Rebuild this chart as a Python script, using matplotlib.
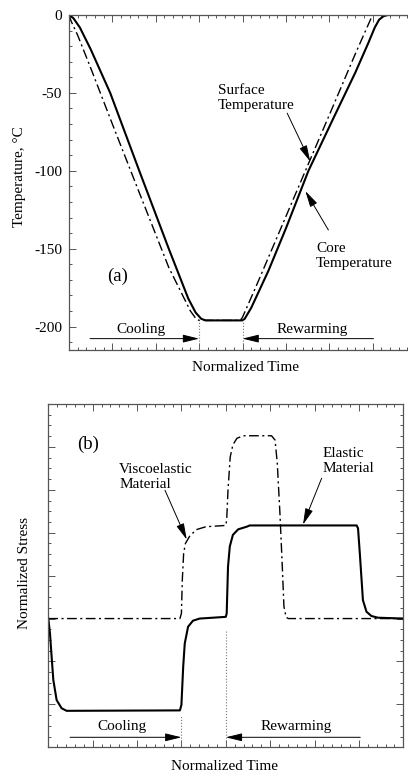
import matplotlib
matplotlib.use('Agg')
import matplotlib.pyplot as plt
from matplotlib.ticker import MultipleLocator, NullFormatter

plt.rcParams['font.family'] = ['Liberation Serif', 'DejaVu Serif']
plt.rcParams['font.size'] = 11
plt.rcParams['axes.unicode_minus'] = False

# (a) temperature histories, x in normalized time units
core_x = [0, 0.1, 0.25, 0.5, 0.95, 1.62, 2.3, 2.75, 2.92, 3.05, 3.15, 3.25,
          4.0, 4.05, 4.2, 4.6, 5.0, 5.52, 6.1, 6.6, 6.9, 7.05, 7.15, 7.25, 7.35, 8.0]
core_y = [0, -2, -8, -22, -50, -100, -150, -182, -191, -195, -196, -196,
          -196, -195, -188, -164, -137, -100, -66, -37, -18, -8, -3, -0.8, 0, 0]
surf_x = [0, 0.05, 0.2, 0.5, 1.0, 1.62, 2.3, 2.8, 2.93, 3.0, 3.05,
          3.95, 4.0, 4.3, 5.45, 6.05, 6.6, 6.95, 7.0, 7.05, 8.0]
surf_y = [0, -4, -13, -34, -70, -114, -162, -190, -195, -196, -196,
          -196, -194, -175, -100, -61, -25, -3, 0, 0, 0]

# (b) stress histories, y in normalized units (0..8)
elastic_x = [0, 0.0375, 0.075, 0.113, 0.188, 0.30, 0.413, 2.966, 3.0, 3.04, 3.075,
             3.15, 3.26, 3.41, 3.71, 4.0, 4.02, 4.05, 4.09, 4.16, 4.28, 4.47, 4.54,
             6.95, 6.98, 7.02, 7.06, 7.09, 7.17, 7.28, 7.43, 8.0]
elastic_y = [3.0, 2.66, 2.11, 1.57, 1.10, 0.91, 0.85, 0.86, 0.99, 1.88, 2.42,
             2.81, 2.95, 3.0, 3.02, 3.04, 3.12, 4.21, 4.68, 4.95, 5.08, 5.14, 5.17,
             5.17, 5.1, 4.52, 3.9, 3.43, 3.16, 3.06, 3.02, 3.0]
visco_x = [0, 2.966, 3.0, 3.02, 3.05, 3.09, 3.18, 3.33, 3.55, 4.0, 4.02, 4.05,
           4.1, 4.16, 4.25, 4.39, 5.03, 5.11, 5.16, 5.22, 5.27, 5.31, 5.36, 5.41, 8.0]
visco_y = [3.0, 3.0, 3.12, 3.9, 4.52, 4.75, 4.91, 5.07, 5.14, 5.17, 5.3, 6.0,
           6.77, 7.05, 7.2, 7.26, 7.26, 7.16, 6.62, 5.45, 4.29, 3.28, 3.03, 3.0, 3.0]

phase_labels = ['Cooling', 'Rewarming']
t_end_cool = 3.0
t_start_warm = 4.0

W, H = 408, 777
fig = plt.figure(figsize=(W / 100, H / 100), dpi=100)

spine_c = '#555555'
arrow_kw = dict(arrowstyle='-|>,head_length=0.9,head_width=0.22', color='black',
                lw=0.7, shrinkA=0, shrinkB=0)
dashdot = (7, 2.5, 1.5, 2.5)


def style_axes(ax):
    for s in ax.spines.values():
        s.set_color(spine_c)
        s.set_linewidth(0.9)
    ax.tick_params(which='both', direction='in', top=True, right=True,
                   color=spine_c, width=0.7)
    ax.tick_params(which='major', length=5)
    ax.tick_params(which='minor', length=2.5)
    ax.xaxis.set_major_locator(MultipleLocator(1))
    ax.xaxis.set_minor_locator(MultipleLocator(0.2))
    ax.xaxis.set_major_formatter(NullFormatter())


# ---- panel (a)
ax1 = fig.add_axes([69 / W, (H - 350) / H, (416 - 69) / W, 335 / H])
style_axes(ax1)
ax1.plot(core_x, core_y, color='black', lw=1.5)
ax1.plot(surf_x, surf_y, color='black', lw=1.0, dashes=dashdot)
ax1.set_xlim(0, 8)
ax1.set_ylim(-215, 0)
ax1.yaxis.set_major_locator(MultipleLocator(50))
ax1.yaxis.set_minor_locator(MultipleLocator(10))
ax1.tick_params(axis='y', which='major', pad=5)
ax1.set_ylabel('Temperature, °C', va='center')
ax1.yaxis.set_label_coords((20 - 69) / 347, (350 - 177) / 335)
ax1.set_xlabel('Normalized Time', va='center')
ax1.xaxis.set_label_coords((245 - 69) / 347, (350 - 368) / 335)

ax1.plot([t_end_cool, t_end_cool], [-215, -196], color='#777777', lw=0.8, ls=':')
ax1.plot([t_start_warm, t_start_warm], [-215, -196], color='#777777', lw=0.8, ls=':')
ax1.annotate('', xy=(t_end_cool, -207.7), xytext=(0.485, -207.7), arrowprops=arrow_kw)
ax1.annotate('', xy=(t_start_warm, -207.7), xytext=(7.02, -207.7), arrowprops=arrow_kw)
ax1.text(1.65, -202, phase_labels[0], ha='center', va='center')
ax1.text(5.6, -202, phase_labels[1], ha='center', va='center')
ax1.text(1.11, -168, '(a)', ha='center', va='center', fontsize=13.5)

ax1.text(3.44, -53.5, 'Surface\nTemperature', ha='left', va='center', linespacing=1.2)
ax1.annotate('', xy=(5.56, -94), xytext=(5.03, -63), arrowprops=arrow_kw)
ax1.text(5.70, -154.5, 'Core\nTemperature', ha='left', va='center', linespacing=1.2)
ax1.annotate('', xy=(5.45, -113), xytext=(5.98, -138), arrowprops=arrow_kw)

# ---- panel (b)
ax2 = fig.add_axes([48.3 / W, (H - 747.3) / H, 355 / W, 343.3 / H])
style_axes(ax2)
ax2.plot(elastic_x, elastic_y, color='black', lw=1.5)
ax2.plot(visco_x, visco_y, color='black', lw=1.0, dashes=dashdot)
ax2.set_xlim(0, 8)
ax2.set_ylim(0, 8)
ax2.yaxis.set_major_locator(MultipleLocator(1))
ax2.yaxis.set_minor_locator(MultipleLocator(0.25))
ax2.yaxis.set_major_formatter(NullFormatter())
ax2.set_ylabel('Normalized Stress', va='center')
ax2.yaxis.set_label_coords((25 - 48.3) / 355, (747.3 - 573) / 343.3)
ax2.set_xlabel('Normalized Time', va='center')
ax2.xaxis.set_label_coords((224.3 - 48.3) / 355, (747.3 - 766.7) / 343.3)

ax2.plot([t_end_cool, t_end_cool], [0, 0.75], color='#777777', lw=0.8, ls=':')
ax2.plot([t_start_warm, t_start_warm], [0, 2.73], color='#777777', lw=0.8, ls=':')
ax2.annotate('', xy=(t_end_cool, 0.233), xytext=(0.49, 0.233), arrowprops=arrow_kw)
ax2.annotate('', xy=(t_start_warm, 0.233), xytext=(7.03, 0.233), arrowprops=arrow_kw)
ax2.text(1.65, 0.48, phase_labels[0], ha='center', va='center')
ax2.text(5.59, 0.48, phase_labels[1], ha='center', va='center')
ax2.text(0.9, 7.05, '(b)', ha='center', va='center', fontsize=13.5)

ax2.text(1.6, 6.31, 'Viscoelastic\nMaterial', ha='left', va='center', linespacing=1.2)
ax2.annotate('', xy=(3.12, 4.84), xytext=(2.63, 5.99), arrowprops=arrow_kw)
ax2.text(6.18, 6.67, 'Elastic\nMaterial', ha='left', va='center', linespacing=1.2)
ax2.annotate('', xy=(5.74, 5.19), xytext=(6.16, 6.27), arrowprops=arrow_kw)

fig.savefig('out.png', dpi=100)
